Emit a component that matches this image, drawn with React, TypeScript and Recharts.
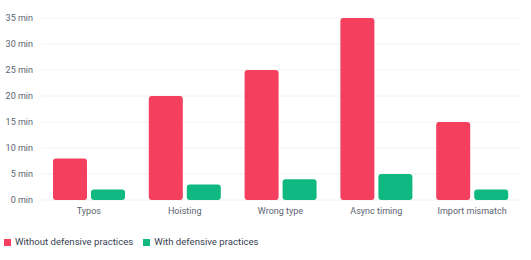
import { BarChart, Bar, XAxis, YAxis, CartesianGrid, Legend } from 'recharts'

const categories = ['Typos', 'Hoisting', 'Wrong type', 'Async timing', 'Import mismatch']
const withoutDefensive = [8, 20, 25, 35, 15]
const withDefensive = [2, 3, 4, 5, 2]
const yTicks = [0, 5, 10, 15, 20, 25, 30, 35]

const data = categories.map((name, i) => ({
  name,
  without: withoutDefensive[i],
  with: withDefensive[i],
}))

const font = 'Roboto, "Liberation Sans", sans-serif'
const tickColor = '#5b6270'

// plain text tick so "35 min" never wraps inside the narrow axis
function YTick({ x, y, payload }: any) {
  return (
    <text x={x} y={y} dy="0.355em" textAnchor="end" fontSize={9} fill={tickColor} fontFamily={font}>
      {`${payload.value} min`}
    </text>
  )
}

export default function App() {
  return (
    <div style={{ position: 'absolute', left: 0, top: 0, fontFamily: font }}>
      <BarChart
        width={531}
        height={260}
        data={data}
        margin={{ top: 18, right: 11, left: 0, bottom: 19 }}
        barSize={34}
        barGap={4}
      >
        <CartesianGrid vertical={false} stroke="#f1f2f4" />
        <XAxis
          dataKey="name"
          axisLine={false}
          tickLine={false}
          tick={{ fontSize: 9, fill: tickColor, fontFamily: font }}
        />
        <YAxis
          width={41}
          domain={[0, 35]}
          ticks={yTicks}
          axisLine={false}
          tickLine={false}
          tick={<YTick />}
        />
        <Legend
          verticalAlign="bottom"
          align="left"
          iconType="square"
          iconSize={7}
          itemSorter={(item: any) => (item.dataKey === 'without' ? 0 : 1)}
          wrapperStyle={{ left: 4, bottom: 13, fontSize: 9.6, color: '#374151' }}
          formatter={(value: string) => <span style={{ color: '#374151' }}>{value}</span>}
        />
        <Bar
          dataKey="without"
          name="Without defensive practices"
          fill="#f43f5e"
          radius={3}
          isAnimationActive={false}
        />
        <Bar
          dataKey="with"
          name="With defensive practices"
          fill="#10b981"
          radius={3}
          isAnimationActive={false}
        />
      </BarChart>
    </div>
  )
}
